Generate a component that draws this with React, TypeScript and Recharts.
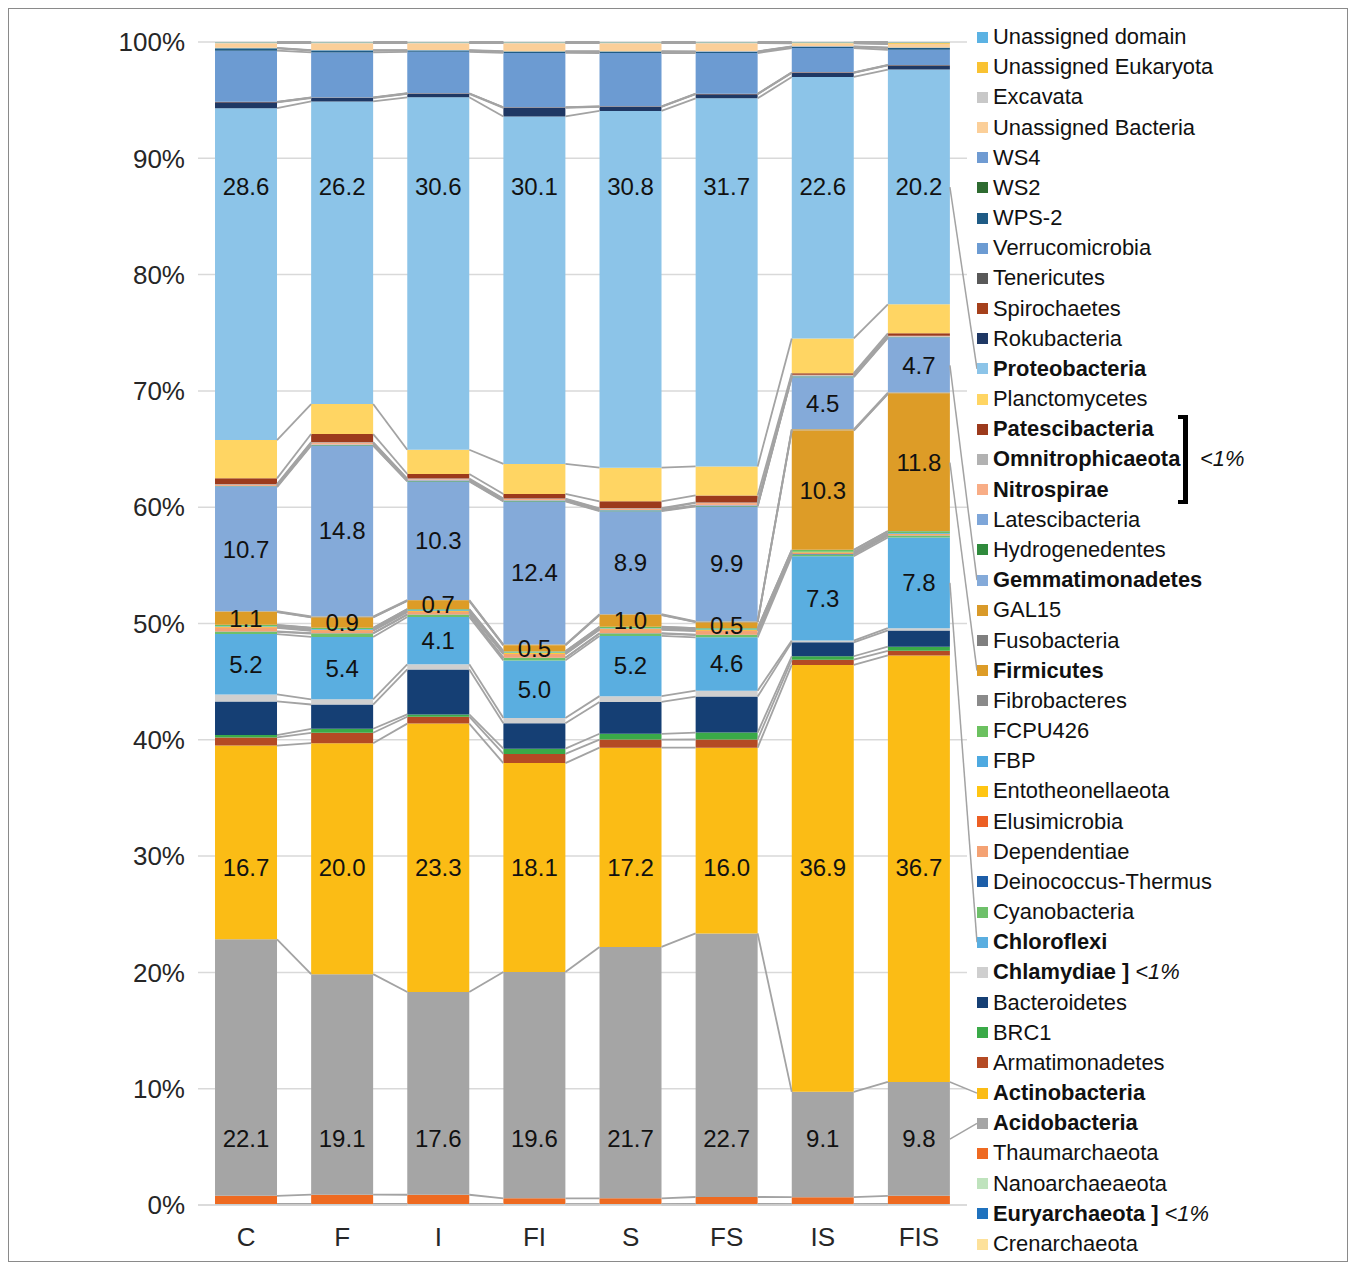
import React from 'react';
import { BarChart, Bar, XAxis, YAxis, CartesianGrid } from 'recharts';

const categories = ['C', 'F', 'I', 'FI', 'S', 'FS', 'IS', 'FIS'];

// relative abundance (%) per phylum, stack order from the bottom up
const crenarchaeota = [0.02, 0.02, 0.02, 0.02, 0.02, 0.02, 0.02, 0.02];
const euryarchaeota = [0.05, 0.05, 0.05, 0.04, 0.04, 0.05, 0.04, 0.05];
const nanoarchaeaeota = [0.02, 0.02, 0.02, 0.02, 0.02, 0.02, 0.02, 0.02];
const thaumarchaeota = [0.7, 0.8, 0.8, 0.5, 0.5, 0.6, 0.6, 0.7];
const acidobacteria = [22.1, 19.1, 17.6, 19.6, 21.7, 22.7, 9.1, 9.8];
const actinobacteria = [16.7, 20.0, 23.3, 18.1, 17.2, 16.0, 36.9, 36.7];
const armatimonadetes = [0.7, 0.9, 0.6, 0.8, 0.7, 0.7, 0.45, 0.4];
const brc1 = [0.2, 0.35, 0.2, 0.45, 0.5, 0.6, 0.3, 0.35];
const bacteroidetes = [2.9, 2.1, 3.9, 2.2, 2.75, 3.1, 1.2, 1.4];
const chlamydiae = [0.6, 0.45, 0.45, 0.45, 0.5, 0.5, 0.15, 0.2];
const chloroflexi = [5.2, 5.4, 4.1, 5.0, 5.2, 4.6, 7.3, 7.8];
const cyanobacteria = [0.2, 0.3, 0.2, 0.2, 0.2, 0.2, 0.15, 0.15];
const deinococcus = [0.03, 0.03, 0.03, 0.03, 0.03, 0.03, 0.03, 0.03];
const dependentiae = [0.3, 0.2, 0.2, 0.3, 0.3, 0.3, 0.05, 0.05];
const elusimicrobia = [0.05, 0.05, 0.05, 0.05, 0.05, 0.05, 0.05, 0.05];
const entotheonellaeota = [0.05, 0.05, 0.05, 0.05, 0.05, 0.05, 0.05, 0.05];
const fbp = [0.05, 0.05, 0.05, 0.05, 0.05, 0.05, 0.05, 0.05];
const fcpu426 = [0.1, 0.1, 0.1, 0.1, 0.1, 0.1, 0.15, 0.15];
const fibrobacteres = [0.02, 0.02, 0.02, 0.02, 0.02, 0.02, 0.02, 0.02];
const firmicutes = [1.1, 0.9, 0.7, 0.5, 1.0, 0.5, 10.3, 11.8];
const fusobacteria = [0.02, 0.02, 0.02, 0.02, 0.02, 0.02, 0.02, 0.02];
const gal15 = [0.05, 0.05, 0.05, 0.05, 0.05, 0.05, 0.1, 0.1];
const gemmatimonadetes = [10.7, 14.8, 10.3, 12.4, 8.9, 9.9, 4.5, 4.7];
const hydrogenedentes = [0.05, 0.05, 0.05, 0.05, 0.05, 0.05, 0.05, 0.05];
const latescibacteria = [0.05, 0.05, 0.05, 0.05, 0.05, 0.05, 0.05, 0.05];
const nitrospirae = [0.1, 0.15, 0.1, 0.1, 0.1, 0.2, 0.05, 0.05];
const omnitrophicaeota = [0.05, 0.05, 0.05, 0.05, 0.05, 0.05, 0.05, 0.05];
const patescibacteria = [0.5, 0.7, 0.4, 0.4, 0.6, 0.6, 0.15, 0.2];
const planctomycetes = [3.3, 2.6, 2.1, 2.6, 2.9, 2.5, 3.0, 2.5];
const proteobacteria = [28.6, 26.2, 30.6, 30.1, 30.8, 31.7, 22.6, 20.2];
const rokubacteria = [0.5, 0.3, 0.3, 0.75, 0.35, 0.35, 0.35, 0.35];
const spirochaetes = [0.03, 0.03, 0.03, 0.03, 0.03, 0.03, 0.03, 0.03];
const tenericutes = [0.02, 0.02, 0.02, 0.02, 0.02, 0.02, 0.02, 0.02];
const verrucomicrobia = [4.4, 3.9, 3.6, 4.7, 4.6, 3.5, 2.1, 1.3];
const wps2 = [0.2, 0.15, 0.1, 0.1, 0.1, 0.1, 0.1, 0.15];
const ws2 = [0.02, 0.02, 0.02, 0.02, 0.02, 0.02, 0.02, 0.02];
const ws4 = [0.03, 0.03, 0.03, 0.03, 0.03, 0.03, 0.03, 0.03];
const unassignedBacteria = [0.4, 0.6, 0.6, 0.7, 0.7, 0.7, 0.25, 0.3];
const excavata = [0.02, 0.02, 0.02, 0.02, 0.02, 0.02, 0.02, 0.02];
const unassignedEukaryota = [0.03, 0.03, 0.03, 0.03, 0.03, 0.03, 0.05, 0.1];
const unassignedDomain = [0.05, 0.05, 0.05, 0.05, 0.05, 0.05, 0.05, 0.05];

const yTicks = [0, 0.1, 0.2, 0.3, 0.4, 0.5, 0.6, 0.7, 0.8, 0.9, 1];

// labelAt: fixed label height (share of the column) used in the figure, otherwise centred
type Series = {
  name: string; values: number[]; color: string; bold?: boolean; label?: boolean;
  labelAt?: number; note?: boolean; leaderFromBase?: boolean;
};

const series: Series[] = [
  { name: 'Crenarchaeota', values: crenarchaeota, color: '#fde19a' },
  { name: 'Euryarchaeota', values: euryarchaeota, color: '#1f72be', bold: true, note: true },
  { name: 'Nanoarchaeaeota', values: nanoarchaeaeota, color: '#bfe3bd' },
  { name: 'Thaumarchaeota', values: thaumarchaeota, color: '#ee6a21' },
  { name: 'Acidobacteria', values: acidobacteria, color: '#a5a5a5', bold: true, label: true, labelAt: 0.0567 },
  { name: 'Actinobacteria', values: actinobacteria, color: '#fbbc15', bold: true, label: true, labelAt: 0.2898, leaderFromBase: true },
  { name: 'Armatimonadetes', values: armatimonadetes, color: '#b44a24' },
  { name: 'BRC1', values: brc1, color: '#3aaa48' },
  { name: 'Bacteroidetes', values: bacteroidetes, color: '#153f74' },
  { name: 'Chlamydiae', values: chlamydiae, color: '#cfcfcf', bold: true, note: true },
  { name: 'Chloroflexi', values: chloroflexi, color: '#5aaee0', bold: true, label: true },
  { name: 'Cyanobacteria', values: cyanobacteria, color: '#6ec06a' },
  { name: 'Deinococcus-Thermus', values: deinococcus, color: '#1d5ea8' },
  { name: 'Dependentiae', values: dependentiae, color: '#f4a273' },
  { name: 'Elusimicrobia', values: elusimicrobia, color: '#ec5f24' },
  { name: 'Entotheonellaeota', values: entotheonellaeota, color: '#ffc512' },
  { name: 'FBP', values: fbp, color: '#4ea9e0' },
  { name: 'FCPU426', values: fcpu426, color: '#6cc160' },
  { name: 'Fibrobacteres', values: fibrobacteres, color: '#8a8a8a' },
  { name: 'Firmicutes', values: firmicutes, color: '#dd9c27', bold: true, label: true },
  { name: 'Fusobacteria', values: fusobacteria, color: '#7f7f7f' },
  { name: 'GAL15', values: gal15, color: '#d99a2a' },
  { name: 'Gemmatimonadetes', values: gemmatimonadetes, color: '#84aad9', bold: true, label: true },
  { name: 'Hydrogenedentes', values: hydrogenedentes, color: '#2f8a3c' },
  { name: 'Latescibacteria', values: latescibacteria, color: '#7ea6d9' },
  { name: 'Nitrospirae', values: nitrospirae, color: '#f8ad86', bold: true },
  { name: 'Omnitrophicaeota', values: omnitrophicaeota, color: '#b2b2b2', bold: true },
  { name: 'Patescibacteria', values: patescibacteria, color: '#9c3a1c', bold: true },
  { name: 'Planctomycetes', values: planctomycetes, color: '#ffd563' },
  { name: 'Proteobacteria', values: proteobacteria, color: '#8cc4e8', bold: true, label: true, labelAt: 0.8753 },
  { name: 'Rokubacteria', values: rokubacteria, color: '#1f3864' },
  { name: 'Spirochaetes', values: spirochaetes, color: '#a5401b' },
  { name: 'Tenericutes', values: tenericutes, color: '#595959' },
  { name: 'Verrucomicrobia', values: verrucomicrobia, color: '#6c9bd2' },
  { name: 'WPS-2', values: wps2, color: '#1f5b85' },
  { name: 'WS2', values: ws2, color: '#2e6b30' },
  { name: 'WS4', values: ws4, color: '#6f9bd2' },
  { name: 'Unassigned Bacteria', values: unassignedBacteria, color: '#fbcf99' },
  { name: 'Excavata', values: excavata, color: '#c8c8c8' },
  { name: 'Unassigned Eukaryota', values: unassignedEukaryota, color: '#f9c232' },
  { name: 'Unassigned domain', values: unassignedDomain, color: '#5bb2e3' },
];

const rows = categories.map((cat, i) => {
  const row: Record<string, any> = { cat };
  series.forEach((s, k) => { row['s' + k] = s.values[i]; });
  return row;
});
const totals = categories.map((_, i) => series.reduce((a, s) => a + s.values[i], 0));

const FONT = '"Liberation Sans", Arial, sans-serif';
const CHART_W = 1338;
const CHART_H = 1252;
const MARGIN = { top: 33, right: 380, left: 0, bottom: 6 };
const Y_AXIS_W = 189;
const X_AXIS_H = 50;
const PLOT_W = CHART_W - MARGIN.left - MARGIN.right - Y_AXIS_W;
const BAND = PLOT_W / categories.length;
const LEG_TOP = 28;
const LEG_ROW = 30.175;
const LEG_X = 968;
const legendItems = [...series].reverse();
const legendRowY = (name: string) => LEG_TOP + legendItems.findIndex((s) => s.name === name) * LEG_ROW;

// series lines between columns, value labels and the leader lines to the legend
function Overlay(props: any) {
  const { x, width, index } = props;
  const bg = props.background ?? { y: MARGIN.top, height: CHART_H - MARGIN.top - MARGIN.bottom - X_AXIS_H };
  const yOf = (f: number) => bg.y + bg.height * (1 - f);
  const out: React.ReactNode[] = [];
  const hasNext = index < categories.length - 1;
  let cumA = 0;
  let cumB = 0;
  series.forEach((s, k) => {
    const v = s.values[index];
    const below = cumA;
    cumA += v;
    if (hasNext) {
      cumB += s.values[index + 1];
      out.push(
        <line key={'sl' + k} x1={x + width} y1={yOf(cumA / totals[index])} x2={x + BAND} y2={yOf(cumB / totals[index + 1])}
          stroke="#a3a3a3" strokeWidth={1.8} />
      );
    }
    if (s.label) {
      const f = s.labelAt ?? (below + v / 2) / totals[index];
      const ly = yOf(f);
      out.push(
        <text key={'lb' + k} x={x + width / 2} y={ly} dy="0.35em" textAnchor="middle" fontSize={24} fontFamily={FONT} fill="#111">
          {v.toFixed(1)}
        </text>
      );
      if (!hasNext) {
        const startY = s.leaderFromBase ? yOf(below / totals[index]) : ly;
        out.push(
          <line key={'ld' + k} x1={x + width} y1={startY} x2={LEG_X} y2={legendRowY(s.name)} stroke="#a3a3a3" strokeWidth={1.5} />
        );
      }
    }
  });
  return <g>{out}</g>;
}

function Legend() {
  return (
    <>
      {legendItems.map((s, i) => (
        <div key={s.name} style={{
          position: 'absolute', left: LEG_X, top: LEG_TOP + i * LEG_ROW - 15, height: 30,
          display: 'flex', alignItems: 'center', whiteSpace: 'nowrap',
          fontFamily: FONT, fontSize: 21.9, color: '#111',
        }}>
          <span style={{ width: 11, height: 11, background: s.color, marginRight: 5, display: 'inline-block' }} />
          <span style={{ fontWeight: s.bold ? 700 : 400 }}>{s.name}{s.note ? ' ]' : ''}</span>
          {s.note && <span style={{ fontStyle: 'italic', marginLeft: 6 }}>{'<1%'}</span>}
        </div>
      ))}
      <div style={{
        position: 'absolute', left: 1169, top: legendRowY('Patescibacteria') - 14,
        width: 10, height: legendRowY('Nitrospirae') - legendRowY('Patescibacteria') + 28,
        borderTop: '4px solid #000', borderRight: '5px solid #000', borderBottom: '4px solid #000', boxSizing: 'border-box',
      }} />
      <div style={{
        position: 'absolute', left: 1191, top: legendRowY('Omnitrophicaeota') - 15, height: 30,
        display: 'flex', alignItems: 'center', fontFamily: FONT, fontSize: 21.9, fontStyle: 'italic', color: '#111',
      }}>{'<1%'}</div>
    </>
  );
}

export default function App() {
  return (
    <div style={{ width: CHART_W, height: CHART_H, border: '1px solid #8a8a8a', position: 'relative', background: '#fff' }}>
      <BarChart width={CHART_W} height={CHART_H} data={rows} margin={MARGIN} stackOffset="expand" barCategoryGap="17.7%">
        <CartesianGrid vertical={false} stroke="#d9d9d9" strokeWidth={1.5} />
        <XAxis dataKey="cat" height={X_AXIS_H} tickLine={false} axisLine={{ stroke: '#d9d9d9', strokeWidth: 1.5 }}
          tickMargin={17} tick={{ fontSize: 26, fill: '#262626', fontFamily: FONT }} />
        <YAxis width={Y_AXIS_W} domain={[0, 1]} ticks={yTicks} tickLine={false} axisLine={false} tickMargin={7}
          tickFormatter={(v: number) => `${Math.round(v * 100)}%`} tick={{ fontSize: 26, fill: '#262626', fontFamily: FONT }} />
        {series.map((s, k) => (
          <Bar key={s.name} dataKey={'s' + k} stackId="a" fill={s.color} isAnimationActive={false} />
        ))}
        <Bar dataKey={() => 0} stackId="a" fill="none" isAnimationActive={false} shape={(p: any) => <Overlay {...p} />} />
      </BarChart>
      <Legend />
    </div>
  );
}
